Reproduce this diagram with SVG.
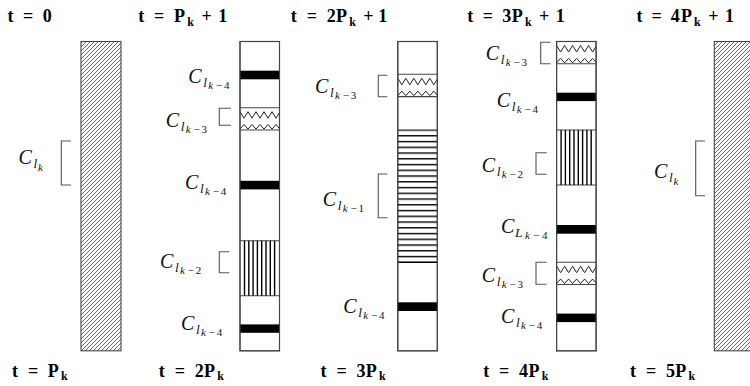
<svg xmlns="http://www.w3.org/2000/svg" xmlns:xlink="http://www.w3.org/1999/xlink" width="750" height="386" viewBox="0 0 750 386">
  <style>
    .title { font-family: "Liberation Serif", "Times New Roman", serif; font-weight: bold; font-size: 18px; fill: #000; }
    .title .sub { font-size: 12px; }
    .lbl { font-family: "Liberation Serif", "Times New Roman", serif; font-style: italic; font-size: 20px; fill: #111; }
    .lbl .s1 { font-size: 13.5px; }
    .lbl .s2 { font-size: 11px; }
    .lbl .up { font-style: normal; }
    .col { fill: #fff; stroke: #444; stroke-width: 1.1; }
    .hatched { fill: url(#diag); stroke: #444; stroke-width: 1.1; }
    .bar { fill: #000; }
    .bracket { fill: none; stroke: #555; stroke-width: 1.1; }
    .edge { stroke: #444; stroke-width: 1.1; }
    .zig { fill: none; stroke: #222; stroke-width: 1; }
    .vline { stroke: #000; stroke-width: 1.4; }
  </style>
  <defs>
    <!-- diagonal hatching for the full blocks -->
    <pattern id="diag" patternUnits="userSpaceOnUse" width="4" height="4">
      <path d="M-1,1 L1,-1 M0,4 L4,0 M3,5 L5,3" stroke="#333" stroke-width="0.75"/>
    </pattern>
    <!-- horizontal hatching -->
    <pattern id="hstripe" patternUnits="userSpaceOnUse" x="0" y="129.35" width="10" height="5.75">
      <rect x="0" y="0" width="10" height="1.4" fill="#000"/>
    </pattern>
    <!-- zigzag band, 39.5 x 22.3 -->
    <g id="zigband">
      <line class="edge" x1="0" y1="0" x2="39.5" y2="0"/>
      <line class="edge" x1="0" y1="22.3" x2="39.5" y2="22.3"/>
      <polyline class="zig" points="0,4 4,10.5 8,4 12,10.5 16,4 20,10.5 24,4 28,10.5 32,4 36,10.5 39.5,4.8"/>
      <polyline class="zig" points="0,21.4 4,16.8 8,21.4 12,16.8 16,21.4 20,16.8 24,21.4 28,16.8 32,21.4 36,16.8 39.5,21"/>
    </g>
    <!-- vertical hatching band, 39.5 x 55 -->
    <g id="vband">
      <line class="edge" x1="0" y1="0" x2="39.5" y2="0"/>
      <line class="edge" x1="0" y1="55" x2="39.5" y2="55"/>
      <line class="vline" x1="4.5" y1="0" x2="4.5" y2="55"/>
      <line class="vline" x1="8.8" y1="0" x2="8.8" y2="55"/>
      <line class="vline" x1="13.1" y1="0" x2="13.1" y2="55"/>
      <line class="vline" x1="17.4" y1="0" x2="17.4" y2="55"/>
      <line class="vline" x1="21.7" y1="0" x2="21.7" y2="55"/>
      <line class="vline" x1="26" y1="0" x2="26" y2="55"/>
      <line class="vline" x1="30.3" y1="0" x2="30.3" y2="55"/>
      <line class="vline" x1="34.6" y1="0" x2="34.6" y2="55"/>
    </g>
  </defs>

  <!-- time labels -->
  <g id="times-top">
    <text class="title" y="22"><tspan x="7.5">t</tspan><tspan x="23.1">=</tspan><tspan x="42.7">0</tspan></text>
    <text class="title" y="22"><tspan x="138.2">t</tspan><tspan x="154.1">=</tspan><tspan x="174">P</tspan><tspan class="sub" x="187.3" y="25.5">k</tspan><tspan x="201.5" y="22">+</tspan><tspan x="218.3">1</tspan></text>
    <text class="title" y="22"><tspan x="290.8">t</tspan><tspan x="306.7">=</tspan><tspan x="326.7">2</tspan><tspan x="336">P</tspan><tspan class="sub" x="349.3" y="25.5">k</tspan><tspan x="363.2" y="22">+</tspan><tspan x="378.3">1</tspan></text>
    <text class="title" y="22"><tspan x="467.2">t</tspan><tspan x="482.7">=</tspan><tspan x="502.3">3</tspan><tspan x="511.7">P</tspan><tspan class="sub" x="525" y="25.5">k</tspan><tspan x="538.9" y="22">+</tspan><tspan x="555.7">1</tspan></text>
    <text class="title" y="22"><tspan x="636.5">t</tspan><tspan x="651.6">=</tspan><tspan x="670.7">4</tspan><tspan x="681">P</tspan><tspan class="sub" x="694" y="25.5">k</tspan><tspan x="708.2" y="22">+</tspan><tspan x="725">1</tspan></text>
  </g>
  <g id="times-bottom">
    <text class="title" y="376.5"><tspan x="12">t</tspan><tspan x="27.9">=</tspan><tspan x="47.8">P</tspan><tspan class="sub" x="61.1" y="380">k</tspan></text>
    <text class="title" y="376.5"><tspan x="158.8">t</tspan><tspan x="174.7">=</tspan><tspan x="194.7">2</tspan><tspan x="204">P</tspan><tspan class="sub" x="217.3" y="380">k</tspan></text>
    <text class="title" y="376.5"><tspan x="320.5">t</tspan><tspan x="336.4">=</tspan><tspan x="356.4">3</tspan><tspan x="365.7">P</tspan><tspan class="sub" x="379" y="380">k</tspan></text>
    <text class="title" y="376.5"><tspan x="483.2">t</tspan><tspan x="499.1">=</tspan><tspan x="519.1">4</tspan><tspan x="528.4">P</tspan><tspan class="sub" x="541.7" y="380">k</tspan></text>
    <text class="title" y="376.5"><tspan x="630">t</tspan><tspan x="646">=</tspan><tspan x="665.9">5</tspan><tspan x="675.2">P</tspan><tspan class="sub" x="688.5" y="380">k</tspan></text>
  </g>

  <!-- period 1: single full block -->
  <g id="col-p1">
    <rect class="hatched" x="81" y="41.5" width="40" height="309.3"/>
  </g>

  <!-- period 2 -->
  <g id="col-p2">
    <rect class="col" x="240" y="41.5" width="39.5" height="309.3"/>
    <rect class="bar" x="240" y="70.7" width="39.5" height="8.6"/>
    <use xlink:href="#zigband" x="240" y="107.7"/>
    <rect class="bar" x="240" y="180.8" width="39.5" height="8.6"/>
    <use xlink:href="#vband" x="240" y="240.7"/>
    <rect class="bar" x="240" y="324.4" width="39.5" height="8.4"/>
    <rect x="240" y="41.5" width="39.5" height="309.3" fill="none" stroke="#444" stroke-width="1.1"/>
  </g>

  <!-- period 3 -->
  <g id="col-p3">
    <rect class="col" x="397.8" y="41.5" width="39.5" height="309.3"/>
    <use xlink:href="#zigband" x="397.8" y="74.3"/>
    <rect x="397.8" y="129.35" width="39.5" height="132.3" fill="url(#hstripe)"/>
    <rect x="397.8" y="261.6" width="39.5" height="1.4" fill="#000"/>
    <rect class="bar" x="397.8" y="302.3" width="39.5" height="8.7"/>
    <rect x="397.8" y="41.5" width="39.5" height="309.3" fill="none" stroke="#444" stroke-width="1.1"/>
  </g>

  <!-- period 4 -->
  <g id="col-p4">
    <rect class="col" x="556.6" y="41.5" width="39.5" height="309.3"/>
    <use xlink:href="#zigband" x="556.6" y="41.5"/>
    <rect class="bar" x="556.6" y="92.7" width="39.5" height="8.4"/>
    <use xlink:href="#vband" x="556.6" y="130"/>
    <rect class="bar" x="556.6" y="225" width="39.5" height="8.7"/>
    <use xlink:href="#zigband" x="556.6" y="262.2"/>
    <rect class="bar" x="556.6" y="313.6" width="39.5" height="8.5"/>
    <rect x="556.6" y="41.5" width="39.5" height="309.3" fill="none" stroke="#444" stroke-width="1.1"/>
  </g>

  <!-- period 5: single full block -->
  <g id="col-p5">
    <rect class="hatched" x="714.3" y="41.5" width="40" height="309.3"/>
  </g>

  <!-- brackets -->
  <g id="brackets">
    <path class="bracket" d="M71,141 H61.3 V185 H71"/>
    <path class="bracket" d="M231,108.3 H219.3 V125.3 H231"/>
    <path class="bracket" d="M229.3,251.7 H219.3 V272.7 H229.3"/>
    <path class="bracket" d="M387.3,75.3 H378.3 V96.7 H387.3"/>
    <path class="bracket" d="M387.3,174 H378.3 V217.7 H387.3"/>
    <path class="bracket" d="M550.7,42.3 H540.7 V63.7 H550.7"/>
    <path class="bracket" d="M546.7,152.7 H536 V174.3 H546.7"/>
    <path class="bracket" d="M546.7,262.3 H536 V284.3 H546.7"/>
    <path class="bracket" d="M705,141 H695.7 V195.7 H705"/>
  </g>

  <!-- class labels -->
  <g id="labels">
    <text class="lbl" x="18.5" y="164">C<tspan class="s1" x="33.5" y="168">l</tspan><tspan class="s2" x="38" y="170.5">k</tspan></text>

    <text class="lbl" x="188.3" y="82.7">C<tspan class="s1" x="203.3" y="86.7">l</tspan><tspan class="s2" x="208.3" y="88.7">k</tspan><tspan class="s2 up" x="216">−</tspan><tspan class="s2 up" x="224">4</tspan></text>
    <text class="lbl" x="165.7" y="126.5">C<tspan class="s1" x="180.7" y="130.5">l</tspan><tspan class="s2" x="185.7" y="132.5">k</tspan><tspan class="s2 up" x="193.4">−</tspan><tspan class="s2 up" x="201.4">3</tspan></text>
    <text class="lbl" x="185" y="189">C<tspan class="s1" x="200" y="193">l</tspan><tspan class="s2" x="205" y="195">k</tspan><tspan class="s2 up" x="212.7">−</tspan><tspan class="s2 up" x="220.7">4</tspan></text>
    <text class="lbl" x="160" y="268">C<tspan class="s1" x="175" y="272">l</tspan><tspan class="s2" x="180" y="274">k</tspan><tspan class="s2 up" x="187.7">−</tspan><tspan class="s2 up" x="195.7">2</tspan></text>
    <text class="lbl" x="181" y="330">C<tspan class="s1" x="196" y="334">l</tspan><tspan class="s2" x="201" y="336">k</tspan><tspan class="s2 up" x="208.7">−</tspan><tspan class="s2 up" x="216.7">4</tspan></text>

    <text class="lbl" x="315" y="93">C<tspan class="s1" x="330" y="97">l</tspan><tspan class="s2" x="335" y="99">k</tspan><tspan class="s2 up" x="342.7">−</tspan><tspan class="s2 up" x="350.7">3</tspan></text>
    <text class="lbl" x="322.7" y="206">C<tspan class="s1" x="337.7" y="210">l</tspan><tspan class="s2" x="342.7" y="212">k</tspan><tspan class="s2 up" x="350.4">−</tspan><tspan class="s2 up" x="358.4">1</tspan></text>
    <text class="lbl" x="343.3" y="313">C<tspan class="s1" x="358.3" y="317">l</tspan><tspan class="s2" x="363.3" y="319">k</tspan><tspan class="s2 up" x="371">−</tspan><tspan class="s2 up" x="379">4</tspan></text>

    <text class="lbl" x="485.7" y="60">C<tspan class="s1" x="500.7" y="64">l</tspan><tspan class="s2" x="505.7" y="66">k</tspan><tspan class="s2 up" x="513.4">−</tspan><tspan class="s2 up" x="521.4">3</tspan></text>
    <text class="lbl" x="496.7" y="106.5">C<tspan class="s1" x="511.7" y="110.5">l</tspan><tspan class="s2" x="516.7" y="112.5">k</tspan><tspan class="s2 up" x="524.4">−</tspan><tspan class="s2 up" x="532.4">4</tspan></text>
    <text class="lbl" x="481.7" y="171.5">C<tspan class="s1" x="496.7" y="175.5">l</tspan><tspan class="s2" x="501.7" y="177.5">k</tspan><tspan class="s2 up" x="509.4">−</tspan><tspan class="s2 up" x="517.4">2</tspan></text>
    <text class="lbl" x="501" y="233">C<tspan class="s1" x="515" y="237">L</tspan><tspan class="s2" x="525" y="239">k</tspan><tspan class="s2 up" x="533">−</tspan><tspan class="s2 up" x="542">4</tspan></text>
    <text class="lbl" x="481.7" y="282">C<tspan class="s1" x="496.7" y="286">l</tspan><tspan class="s2" x="501.7" y="288">k</tspan><tspan class="s2 up" x="509.4">−</tspan><tspan class="s2 up" x="517.4">3</tspan></text>
    <text class="lbl" x="501" y="323">C<tspan class="s1" x="516" y="327">l</tspan><tspan class="s2" x="521" y="329">k</tspan><tspan class="s2 up" x="528.7">−</tspan><tspan class="s2 up" x="536.7">4</tspan></text>

    <text class="lbl" x="654" y="178">C<tspan class="s1" x="669" y="182">l</tspan><tspan class="s2" x="673.5" y="184.5">k</tspan></text>
  </g>
</svg>
